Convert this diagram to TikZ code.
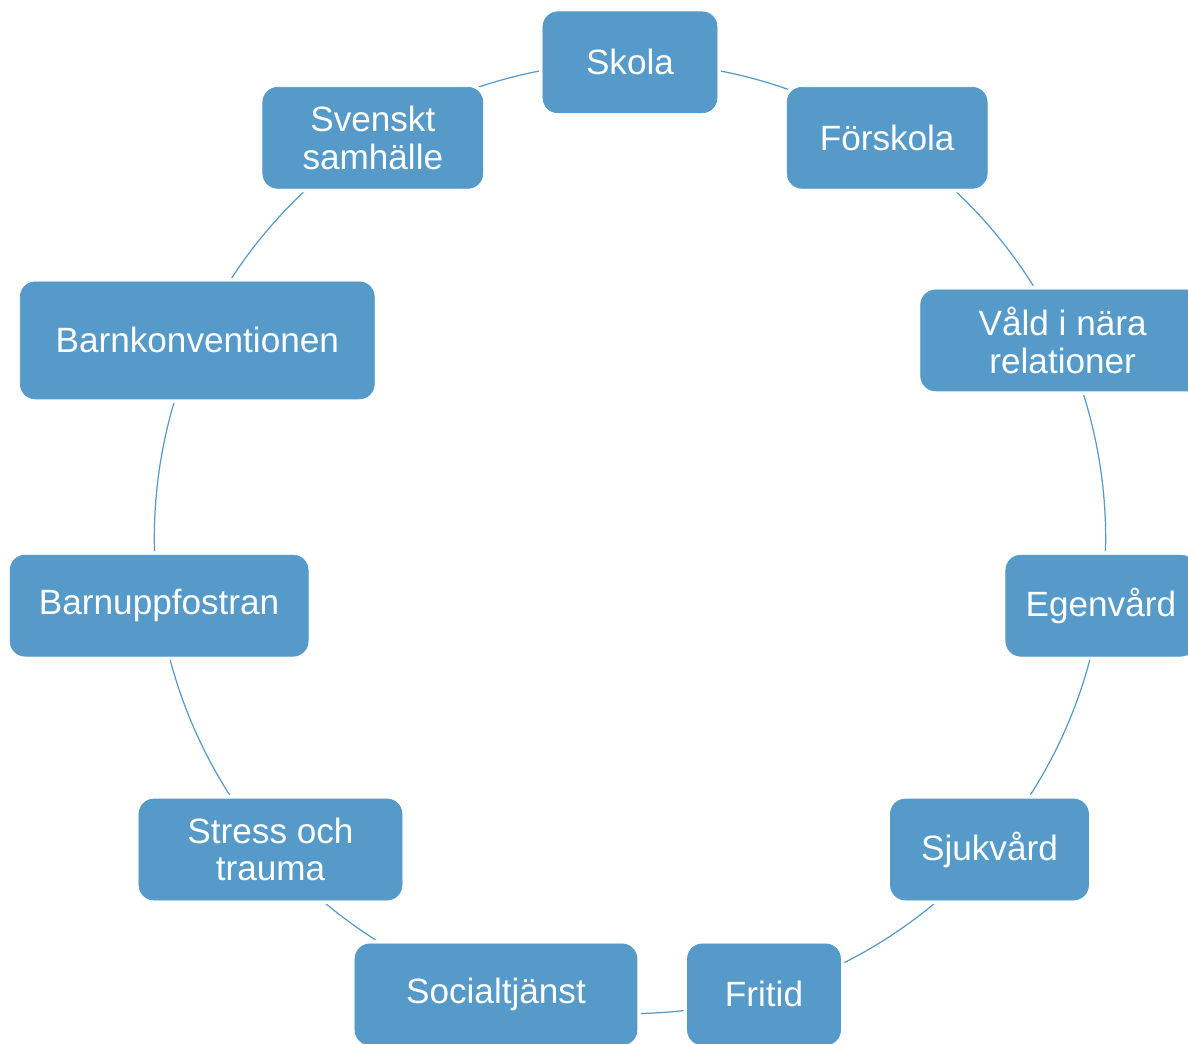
\documentclass[tikz,border=0pt]{standalone}
\usepackage{fontspec}
\setmainfont{Liberation Sans}
\pgfdeclarelayer{background}
\pgfsetlayers{background,main}
\definecolor{omradebla}{RGB}{85,154,200}
\tikzstyle{omrade}=[draw=omradebla, fill=omradebla, text=white, rounded corners=0.3cm,
  minimum height=2.02cm, align=center, inner sep=0pt,
  preaction={draw=white, line width=4.5pt},
  font=\fontsize{20}{21.5}\selectfont]
\tikzstyle{line}=[draw, color=omradebla, line width=0.7pt, looseness=0.87]
\newcommand{\kretsnod}[4]{node (#1) [omrade, minimum width=#3cm] at (#2:9.514) {#4}}

\begin{document}
\begin{tikzpicture}

  \useasboundingbox (-12.6,-10.12) rectangle (11.16,10.76);

  % Draw the areas around the circle
  \path \kretsnod{SKOLA}{90}{3.48}{Skola};
  \path \kretsnod{FORSKOLA}{57.273}{4.0}{Förskola};
  \path \kretsnod{VALD}{24.545}{5.68}{Våld i nära\\relationer};
  \path \kretsnod{EGENVARD}{-8.182}{3.8}{Egenvård};
  \path \kretsnod{SJUKVARD}{-40.909}{3.96}{Sjukvård};
  \path \kretsnod{FRITID}{-73.636}{3.06}{Fritid};
  \path \kretsnod{SOCIAL}{-106.364}{5.64}{Socialtjänst};
  \path \kretsnod{STRESS}{-139.091}{5.26}{Stress och\\trauma};
  \path \kretsnod{UPPFOSTRAN}{-171.818}{5.96}{Barnuppfostran};
  \path (155.455:9.514) node (KONVENTION) [omrade, minimum width=7.08cm,
    minimum height=2.34cm] {Barnkonventionen};
  \path \kretsnod{SAMHALLE}{122.727}{4.4}{Svenskt\\samhälle};

  % Draw arcs between the areas (behind them)
  \begin{pgfonlayer}{background}
    \path [line] (SKOLA.center) to[bend left=16.36] (FORSKOLA.center);
    \path [line] (FORSKOLA.center) to[bend left=16.36] (VALD.center);
    \path [line] (VALD.center) to[bend left=16.36] (EGENVARD.center);
    \path [line] (EGENVARD.center) to[bend left=16.36] (SJUKVARD.center);
    \path [line] (SJUKVARD.center) to[bend left=16.36] (FRITID.center);
    \path [line] (FRITID.center) to[bend left=16.36] (SOCIAL.center);
    \path [line] (SOCIAL.center) to[bend left=16.36] (STRESS.center);
    \path [line] (STRESS.center) to[bend left=16.36] (UPPFOSTRAN.center);
    \path [line] (UPPFOSTRAN.center) to[bend left=16.36] (KONVENTION.center);
    \path [line] (KONVENTION.center) to[bend left=16.36] (SAMHALLE.center);
    \path [line] (SAMHALLE.center) to[bend left=16.36] (SKOLA.center);
  \end{pgfonlayer}

\end{tikzpicture}
\end{document}
